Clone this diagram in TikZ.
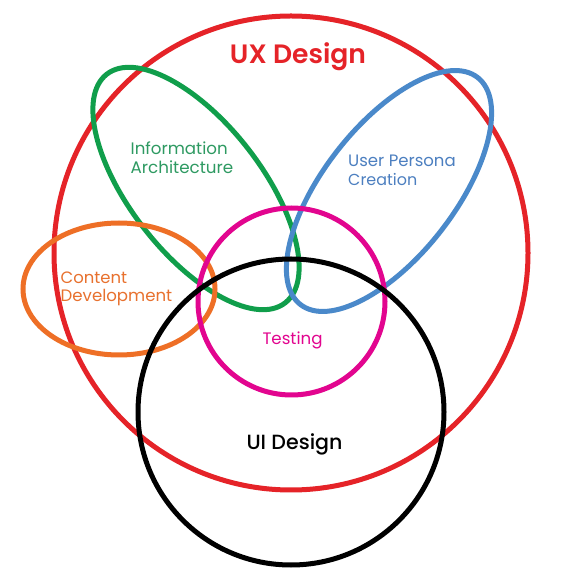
\documentclass[tikz,border=0pt]{standalone}
\usepackage{graphicx}
\usepackage{fontspec}
\setmainfont{Poppins}
\IfFontExistsTF{Poppins SemiBold}{\newfontfamily\uxfont{Poppins SemiBold}}{\newfontfamily\uxfont{Poppins}[UprightFont=*-Bold]}
\IfFontExistsTF{Poppins Medium}{\newfontfamily\uifont{Poppins Medium}}{\newfontfamily\uifont{Poppins}}
\definecolor{uxred}{HTML}{E52328}
\definecolor{iagreen}{HTML}{109E4B}
\definecolor{upblue}{HTML}{4A89CA}
\definecolor{cdorange}{HTML}{EE6F26}
\definecolor{tmag}{HTML}{E2058F}
\definecolor{iatext}{HTML}{2E9A62}
\definecolor{uptext}{HTML}{4C7FC0}
\definecolor{cdtext}{HTML}{E8712E}
\newcommand{\fitto}[2]{\resizebox{#1pt}{!}{\fontsize{14}{17}\selectfont #2}}
\begin{document}
\begin{tikzpicture}[x=1pt,y=1pt,
  ring/.style={line width=5pt},
  lbl/.style={inner sep=0pt,anchor=base west},
  clbl/.style={inner sep=0pt,anchor=base}]
\useasboundingbox (0,0) rectangle (584,584);
\fill[white] (0,0) rectangle (584,584);
% UX Design
\draw[ring,uxred] (291,331) circle[radius=237pt];
% Information Architecture
\draw[ring,iagreen,rotate around={-52:(196,395.5)}] (196,395.5) ellipse[x radius=145pt,y radius=65.5pt];
% User Persona Creation
\draw[ring,upblue,rotate around={52:(389,393)}] (389,393) ellipse[x radius=144pt,y radius=65.5pt];
% Content Development
\draw[ring,cdorange] (119,295) ellipse[x radius=96pt,y radius=66pt];
% Testing
\draw[ring,tmag] (291.5,282.5) circle[radius=93.5pt];
% UI Design
\draw[ring,black] (291,172) circle[radius=153pt];
% labels
\node[clbl,text=uxred] (ux) at (298,520) {\resizebox{136pt}{!}{\uxfont\fontsize{26}{30}\selectfont UX Design}};
\node[lbl,text=iatext] (ia1) at (130.5,429) {\fitto{97}{Information}};
\node[lbl,text=iatext] (ia2) at (130.5,410) {\fitto{102.5}{Architecture}};
\node[lbl,text=uptext] (up1) at (348,417.3) {\fitto{107.5}{User Persona}};
\node[lbl,text=uptext] (up2) at (348,398.3) {\fitto{69}{Creation}};
\node[lbl,text=cdtext] (cd1) at (60.5,300.7) {\fitto{66.5}{Content}};
\node[lbl,text=cdtext] (cd2) at (60.5,282.3) {\fitto{111.5}{Development}};
\node[clbl,text=tmag] (te) at (292.5,239) {\fitto{60}{Testing}};
\node[clbl] (ui) at (294.5,134.7) {\resizebox{96pt}{!}{\uifont\fontsize{19}{22}\selectfont UI Design}};
\end{tikzpicture}
\end{document}
